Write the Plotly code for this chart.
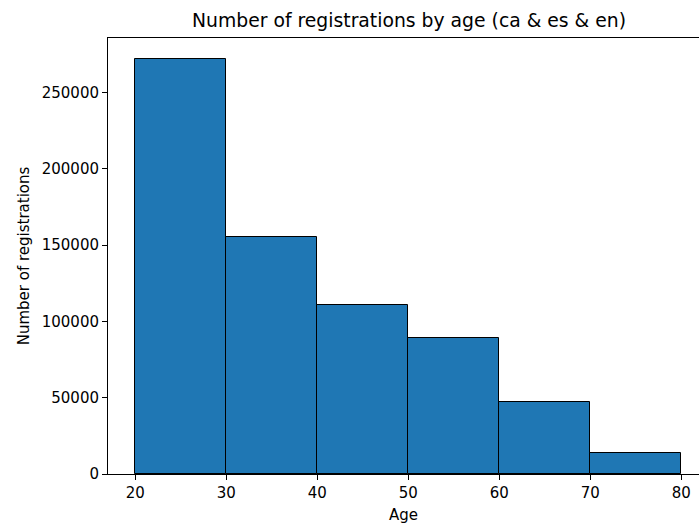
import plotly.graph_objects as go

bin_edges = [20, 30, 40, 50, 60, 70, 80]
counts = [272000, 155300, 110500, 89300, 47400, 14000]
x_ticks = [20, 30, 40, 50, 60, 70, 80]
y_ticks = [0, 50000, 100000, 150000, 200000, 250000]

centers = [(a + b) / 2 for a, b in zip(bin_edges[:-1], bin_edges[1:])]
widths = [b - a for a, b in zip(bin_edges[:-1], bin_edges[1:])]

font = "DejaVu Sans"
fs = 15
fig = go.Figure(go.Bar(
    x=centers, y=counts, width=widths,
    marker=dict(color="#1f77b4", line=dict(color="black", width=1)),
))

fig.update_layout(
    width=699, height=525,
    margin=dict(l=108, r=0, t=38, b=51),
    paper_bgcolor="white", plot_bgcolor="white",
    font=dict(family=font, size=fs, color="black"),
    bargap=0, showlegend=False,
    title=dict(text="Number of registrations by age (ca & es & en)",
               x=409 / 699, xanchor="center", y=1 - 20 / 525, yanchor="middle",
               font=dict(family=font, size=18.8, color="black")),
)
fig.update_xaxes(
    range=[17, 81.95], tickvals=x_ticks, ticktext=[str(v) for v in x_ticks],
    showgrid=False, zeroline=False, showline=True, linecolor="black", linewidth=1,
    mirror=True, ticks="outside", ticklen=5, tickcolor="black",
    title=dict(text="Age", font=dict(family=font, size=fs), standoff=8),
)
fig.update_yaxes(
    range=[0, 285800], tickvals=y_ticks, ticktext=[str(v) for v in y_ticks],
    showgrid=False, zeroline=False, showline=True, linecolor="black", linewidth=1,
    ticks="outside", ticklen=5, tickcolor="black",
    title=dict(text="Number of registrations", font=dict(family=font, size=fs), standoff=8),
)
fig.write_html("out.html", config={"displayModeBar": False},
               post_script="document.body.style.margin='0';document.body.style.overflow='hidden';")
